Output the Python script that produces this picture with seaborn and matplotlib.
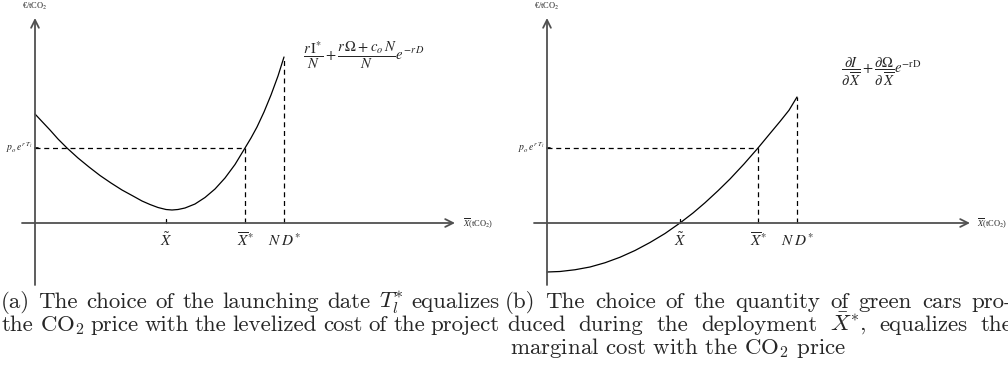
import matplotlib
matplotlib.use('Agg')
import matplotlib.pyplot as plt
import seaborn as sns
import pandas as pd

# chart units: origin where the axes cross, 1 unit ~ 25 px
# (a) levelized cost of the project vs. X
cost_x = [0, 0.28, 0.6, 0.92, 1.28, 1.72, 2.16, 2.6, 3.04, 3.48, 3.92, 4.28, 4.6, 4.92, 5.24,
          5.48, 5.72, 6.0, 6.4, 6.8, 7.2, 7.6, 8.0, 8.4, 8.64, 8.88, 9.16, 9.44, 9.72, 9.96]
cost_y = [4.36, 4.06, 3.72, 3.36, 3.0, 2.6, 2.24, 1.9, 1.6, 1.32, 1.08, 0.88, 0.74, 0.62, 0.54,
          0.52, 0.54, 0.6, 0.76, 1.02, 1.36, 1.8, 2.34, 3.0, 3.4, 3.84, 4.44, 5.12, 5.88, 6.64]

# (b) marginal cost vs. X
marg_x = [0, 0.52, 1.12, 1.72, 2.32, 2.92, 3.52, 4.12, 4.72, 5.32,
          5.84, 6.32, 6.84, 7.32, 7.88, 8.44, 8.92, 9.32, 9.68, 10.0]
marg_y = [-1.96, -1.94, -1.87, -1.76, -1.59, -1.37, -1.10, -0.78, -0.42, 0,
          0.40, 0.81, 1.29, 1.76, 2.36, 3.0, 3.58, 4.06, 4.51, 5.04]

price_level = 3.0
x_tilde = [5.24, 5.32]
x_star = [8.4, 8.44]
x_nd = [9.96, 10.0]
tick_labels = [r'$\tilde{X}$', r'$\overline{X}^{*}$', r'$N\;D^{*}$']

formulas = [r'$\dfrac{r\,\mathrm{I}^{*}}{N}+\dfrac{r\,\Omega+c_o\,N}{N}e^{-r\,D}$',
            r'$\dfrac{\partial I}{\partial\,\overline{X}}+\dfrac{\partial \Omega}{\partial\,\overline{X}}e^{-\mathrm{rD}}$']

captions = [
    ['(a) The choice of the launching date $T_l^{*}$ equalizes',
     'the CO$_2$ price with the levelized cost of the project'],
    ['(b) The choice of the quantity of green cars pro-',
     'duced during the deployment $\\bar{X}^{*}$, equalizes the',
     'marginal cost with the CO$_2$ price'],
]

sns.set_theme(style='white')
serif = ['Liberation Serif', 'DejaVu Serif']
plt.rcParams['font.family'] = serif
plt.rcParams['mathtext.fontset'] = 'stix'

W, H = 1008, 383
fig = plt.figure(figsize=(W / 100, H / 100), dpi=100)

panels = [
    dict(left=0, ox=35, xs=cost_x, ys=cost_y, xt=x_tilde[0], xs_=x_star[0], nd=x_nd[0],
         x_end=16.8, fpos=(13.16, 6.72), fsize=10.5, xlab=17.1),
    dict(left=504, ox=547, xs=marg_x, ys=marg_y, xt=x_tilde[1], xs_=x_star[1], nd=x_nd[1],
         x_end=16.92, fpos=(13.36, 6.04), fsize=10.5, xlab=17.2),
]
oy = 223
scale = 25.0
top_px, bot_px = 0, 290

axis_col = '#505050'
for i, p in enumerate(panels):
    ax = fig.add_axes([p['left'] / W, (H - bot_px) / H, 504 / W, (bot_px - top_px) / H])
    ax.set_xlim((p['left'] - p['ox']) / scale, (p['left'] + 504 - p['ox']) / scale)
    ax.set_ylim((oy - bot_px) / scale, (oy - top_px) / scale)
    ax.axis('off')

    # axes with open arrow heads
    ax.annotate('', xy=(p['x_end'], 0), xytext=(-0.52, 0),
                arrowprops=dict(arrowstyle='->', color=axis_col, lw=1.3,
                                mutation_scale=14, shrinkA=0, shrinkB=0))
    ax.annotate('', xy=(0, 8.2), xytext=(0, -2.48),
                arrowprops=dict(arrowstyle='->', color=axis_col, lw=1.3,
                                mutation_scale=14, shrinkA=0, shrinkB=0))

    df = pd.DataFrame({'x': p['xs'], 'y': p['ys']})
    sns.lineplot(data=df, x='x', y='y', ax=ax, color='black', lw=0.9,
                 sort=False, estimator=None)

    y_end = p['ys'][-1]
    dash = dict(color='black', lw=0.9, ls=(0, (4, 3)))
    ax.plot([0, p['xs_']], [price_level, price_level], **dash)
    ax.plot([p['xs_'], p['xs_']], [0, price_level], **dash)
    ax.plot([p['nd'], p['nd']], [0, y_end], **dash)

    # small ticks
    ax.plot([0, 0.12], [price_level, price_level], color='black', lw=1.2)
    ax.plot([p['xt'], p['xt']], [0, 0.15], color='black', lw=0.9)

    for xv, lab in zip([p['xt'], p['xs_'], p['nd']], tick_labels):
        ax.text(xv, -0.7, lab, ha='center', va='center', fontsize=11)

    ax.text(-0.1, price_level, r'$p_o\,e^{r\,T_l}$', ha='right', va='center', fontsize=7)
    ax.text(0, 8.65, '€/tCO$_2$', ha='center', va='center', fontsize=6)
    ax.text(p['xlab'], 0, r'$\overline{X}$(tCO$_2$)', ha='left', va='center', fontsize=6)
    ax.text(p['fpos'][0], p['fpos'][1], formulas[i], ha='center', va='center',
            fontsize=p['fsize'])

# captions, justified like the LaTeX subcaptions
fig.canvas.draw()
renderer = fig.canvas.get_renderer()
cap_kw = dict(fontsize=16.5, family=['cmr10', 'DejaVu Serif'], math_fontfamily='cm',
              va='baseline', ha='left')
starts = [[1, 2], [505, 507, 510]]
right_ends = [[500, 500], [1012, 1012]]
for i, lines in enumerate(captions):
    for j, line in enumerate(lines):
        y = 1 - (308 + 23 * j) / H
        x0 = starts[i][j]
        if j == len(lines) - 1 and i == 1:
            fig.text(x0 / W, y, line, **cap_kw)
            continue
        words = line.split(' ')
        texts = [fig.text(0, y, w, **cap_kw) for w in words]
        ws = [t.get_window_extent(renderer).width for t in texts]
        gap = max((right_ends[i][j] - x0 - sum(ws)) / (len(words) - 1), 4)
        x = x0
        for t, w in zip(texts, ws):
            t.set_x(x / W)
            x += w + gap

fig.savefig('out.png', dpi=100)
